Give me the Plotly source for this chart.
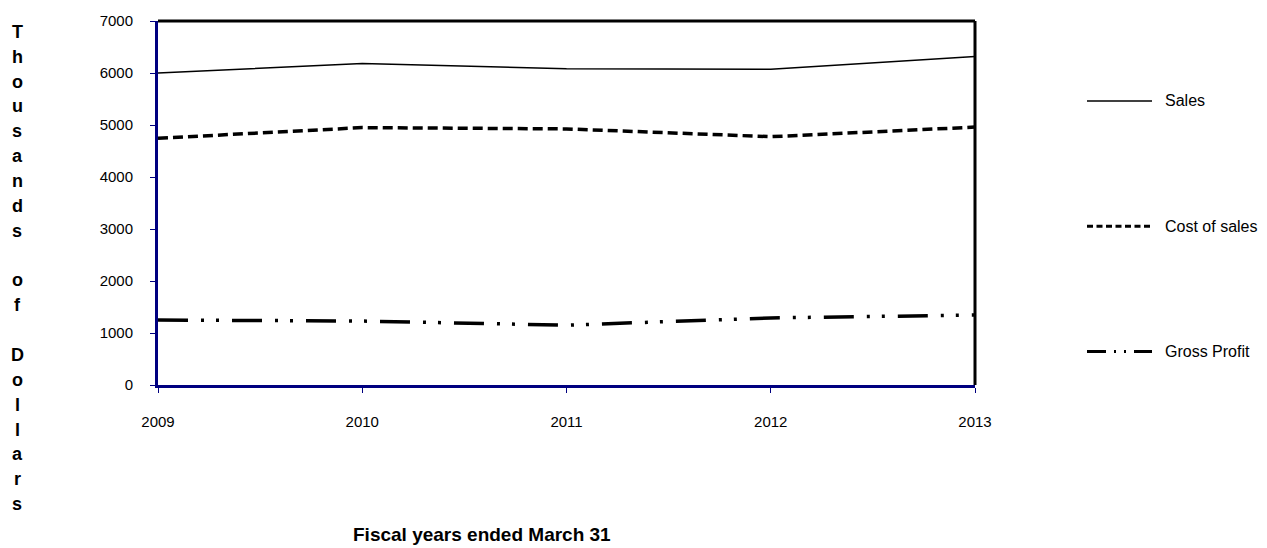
import plotly.graph_objects as go

years = [2009, 2010, 2011, 2012, 2013]
year_labels = ["2009", "2010", "2011", "2012", "2013"]
sales = [6000, 6185, 6080, 6070, 6315]
cost_of_sales = [4745, 4950, 4925, 4775, 4960]
gross_profit = [1250, 1230, 1150, 1290, 1345]
series_names = ["Sales", "Cost of sales", "Gross Profit"]
y_title = "Thousands of Dollars"
x_title = "Fiscal years ended March 31"

FONT = "Liberation Sans, Arial, sans-serif"
W, H = 1267, 548
L, R, T, B = 158, 975, 16, 385  # plot area pixels
PW, PH = R - L, B - T


def px(x):
    return (x - L) / PW


def py(y):
    return (B - y) / PH


styles = [
    dict(width=1.5, dash="solid"),
    dict(width=3.5, dash="10px,5px"),
    dict(width=3.5, dash="30px,13px,3px,12px,3px,13px"),
]
legend_styles = [
    dict(width=1.5, dash="solid"),
    dict(width=3, dash="6px,3.5px"),
    dict(width=3, dash="19px,8px,2px,8px,2px,8px"),
]

fig = go.Figure()
for name, vals, st in zip(series_names, [sales, cost_of_sales, gross_profit], styles):
    fig.add_trace(go.Scatter(x=years, y=vals, mode="lines", name=name,
                             line=dict(color="black", width=st["width"], dash=st["dash"]),
                             showlegend=False))

annotations = []
shapes = []

# vertical stacked y-axis title
for i, ch in enumerate(y_title):
    if ch == " ":
        continue
    annotations.append(dict(text=ch, x=px(17), y=py(27 + i * 25.2), xref="paper", yref="paper",
                            showarrow=False, xanchor="center", yanchor="middle",
                            font=dict(family=FONT, size=18, color="black", weight="bold")))

# x title
annotations.append(dict(text="<b>" + x_title + "</b>", x=px(482), y=py(537), xref="paper", yref="paper",
                        showarrow=False, xanchor="center", yanchor="middle",
                        font=dict(family=FONT, size=19, color="black")))

# manual legend
leg_y = [97, 224, 351]
for name, yy, st in zip(series_names, leg_y, legend_styles):
    shapes.append(dict(type="line", xref="paper", yref="paper", x0=px(1087), x1=px(1152),
                       y0=py(yy), y1=py(yy), line=dict(color="black", width=st["width"], dash=st["dash"])))
    annotations.append(dict(text=name, x=px(1163), y=py(yy), xref="paper", yref="paper",
                            showarrow=False, xanchor="left", yanchor="middle",
                            font=dict(family=FONT, size=16, color="black")))

# top and right borders (black)
shapes.append(dict(type="line", xref="paper", yref="paper", x0=0, x1=1, y0=1, y1=1,
                   line=dict(color="black", width=3)))
shapes.append(dict(type="line", xref="paper", yref="paper", x0=1, x1=1, y0=0, y1=1,
                   line=dict(color="black", width=3)))

fig.update_layout(
    width=W, height=H,
    margin=dict(l=L, r=W - R, t=T, b=H - B, pad=0),
    paper_bgcolor="white", plot_bgcolor="white",
    font=dict(family=FONT, size=15, color="black"),
    annotations=annotations, shapes=shapes,
    showlegend=False,
)
fig.update_xaxes(range=[2009, 2013], tickvals=years, ticktext=year_labels,
                 showgrid=False, zeroline=False, showline=True, linecolor="#000080", linewidth=3,
                 ticks="outside", ticklen=5, tickwidth=1, tickcolor="#000080",
                 ticklabelstandoff=16, tickfont=dict(size=15, family=FONT))
fig.update_yaxes(range=[0, 7000], dtick=1000, tick0=0,
                 showgrid=False, zeroline=False, showline=True, linecolor="#000080", linewidth=3,
                 ticks="outside", ticklen=5, tickwidth=1, tickcolor="#000080",
                 ticklabelstandoff=14, tickfont=dict(size=15, family=FONT))

fig.write_html("out.html")
